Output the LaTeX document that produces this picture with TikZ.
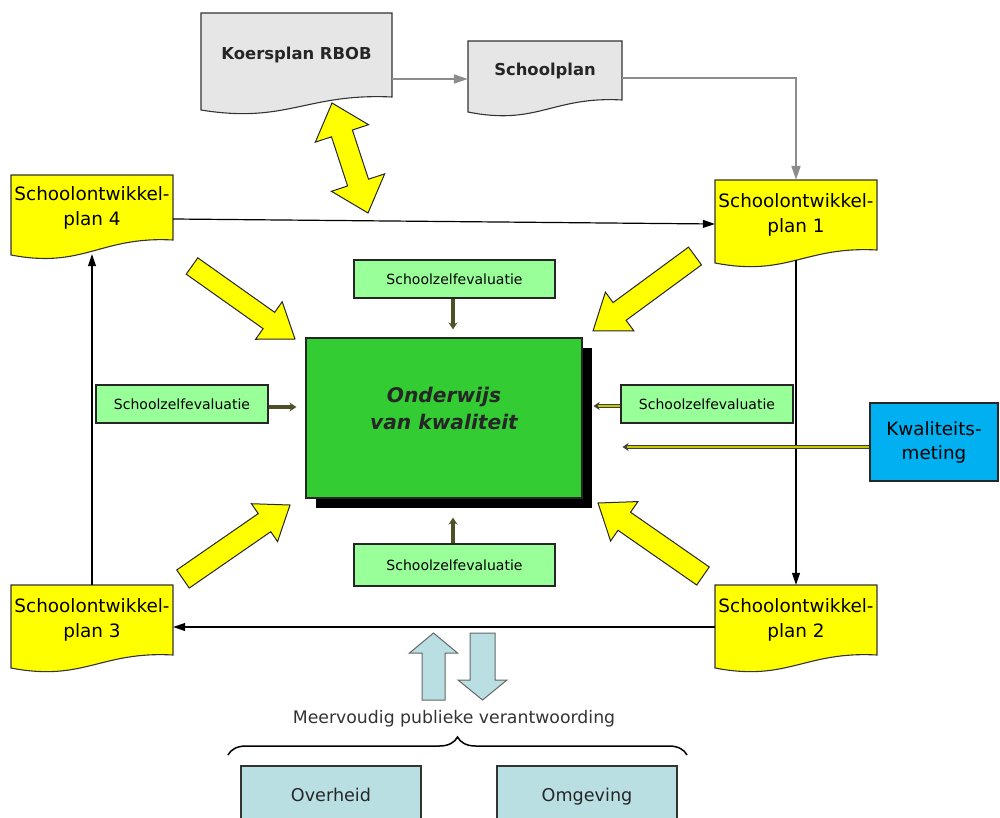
\documentclass[tikz,border=0pt]{standalone}
\usepackage{fontspec}
\setmainfont{DejaVu Sans}
\usetikzlibrary{arrows.meta,decorations.pathreplacing,shadows}
\definecolor{docgray}{HTML}{E6E6E6}
\definecolor{sopyellow}{HTML}{FFFF00}
\definecolor{maingreen}{HTML}{33CC33}
\definecolor{szegreen}{HTML}{99FF99}
\definecolor{kwblue}{HTML}{00B0F0}
\definecolor{lteal}{HTML}{B9DFE3}
\definecolor{conngray}{HTML}{8C8C8C}
\definecolor{darkolive}{HTML}{4F4F28}
\definecolor{yolive}{HTML}{C8C800}

% document shape with wavy bottom: fill, xl, xr, top, y right-bottom, y left-bottom
\newcommand\docshape[6]{%
\pgfmathsetmacro\dw{#3-#2}%
\pgfmathsetmacro\dcA{#3-0.45*\dw}%
\pgfmathsetmacro\dcB{#2+0.45*\dw}%
\pgfmathsetmacro\dyA{#5-4}%
\pgfmathsetmacro\dyB{#6+14}%
\filldraw[docline, fill=#1] (#2,#4) -- (#3,#4) -- (#3,#5) .. controls (\dcA,\dyA) and (\dcB,\dyB) .. (#2,#6) -- cycle;}

% block arrow: style, tail x, tail y, tip x, tip y, shaft half width, head half width, head length
\newcommand\blockarrow[8]{%
\pgfmathsetmacro\bdx{#4-#2}%
\pgfmathsetmacro\bdy{#5-#3}%
\pgfmathsetmacro\blen{veclen(\bdx,\bdy)}%
\pgfmathsetmacro\bang{atan2(-\bdy,\bdx)}%
\pgfmathsetmacro\bneck{\blen-#8}%
\begin{scope}[shift={(#2,#3)},rotate=\bang]
\draw[#1] (0,-#6) -- (\bneck,-#6) -- (\bneck,-#7) -- (\blen,0) -- (\bneck,#7) -- (\bneck,#6) -- (0,#6) -- cycle;
\end{scope}}

% double-headed block arrow: style, tip1 x, y, tip2 x, y, shaft half, head half, head length
\newcommand\dblockarrow[8]{%
\pgfmathsetmacro\bdx{#4-#2}%
\pgfmathsetmacro\bdy{#5-#3}%
\pgfmathsetmacro\blen{veclen(\bdx,\bdy)}%
\pgfmathsetmacro\bang{atan2(-\bdy,\bdx)}%
\pgfmathsetmacro\bneck{\blen-#8}%
\begin{scope}[shift={(#2,#3)},rotate=\bang]
\draw[#1] (0,0) -- (#8,-#7) -- (#8,-#6) -- (\bneck,-#6) -- (\bneck,-#7) -- (\blen,0) -- (\bneck,#7) -- (\bneck,#6) -- (#8,#6) -- (#8,#7) -- cycle;
\end{scope}}

\begin{document}
\begin{tikzpicture}[x=1pt,y=-1pt,
  docline/.style={draw=black!80, line width=1.1pt},
  doctext/.style={rectangle, inner sep=0pt, align=center},
  soptext/.style={doctext, minimum width=162, font=\fontsize{18.4}{25}\selectfont},
  yarrow/.style={fill=sopyellow, draw=black!85, line width=1pt, line join=miter},
  tarrow/.style={fill=lteal, draw=black!60, line width=1pt, line join=miter},
  conn/.style={draw=black, line width=1.2pt, -{Triangle[length=12pt,width=8pt]}},
  gconn/.style={draw=conngray, line width=2pt, -{Triangle[length=14pt,width=9pt]}},
  szebox/.style={rectangle, draw=black!85, line width=1.2pt, fill=szegreen, inner sep=0pt,
    minimum height=38, font=\fontsize{14}{17}\selectfont},
  sdark/.style={draw=darkolive, line width=3.2pt, -{Stealth[length=7pt,width=9pt]}},
  syel/.style={draw=black!75, line width=0.8pt, double=yolive, double distance=2pt,
    -{Stealth[length=6pt,width=8pt]}},
  tealbox/.style={rectangle, draw=black!80, line width=1.2pt, fill=lteal, inner sep=0pt,
    minimum width=180, minimum height=62, text height=13pt, text depth=4pt,
    font=\fontsize{17.6}{20}\selectfont, text=black!85}
]
\useasboundingbox (0,0) rectangle (1000,818);
\clip (0,0) rectangle (1000,818);

% ---------- documents ----------
\docshape{docgray}{201}{392}{13}{97}{110}
\node[doctext, minimum width=191, minimum height=84, font=\bfseries\fontsize{16.4}{19}\selectfont, text=black!85] (koers) at (296.5,55) {Koersplan RBOB};

\docshape{docgray}{468}{622}{41}{100}{112}
\node[doctext, minimum width=154, minimum height=59, font=\bfseries\fontsize{16.4}{19}\selectfont, text=black!85] (school) at (545,71) {Schoolplan};

\docshape{sopyellow}{11}{173}{175}{240}{255}
\node[soptext, minimum height=65] (sop4) at (92,207.5) {Schoolontwikkel-\\plan 4};

\docshape{sopyellow}{715}{877}{180}{250}{263}
\node[soptext, minimum height=70] (sop1) at (796,215) {Schoolontwikkel-\\plan 1};

\docshape{sopyellow}{11}{173}{585}{655}{668}
\node[soptext, minimum height=70] (sop3) at (92,620) {Schoolontwikkel-\\plan 3};

\docshape{sopyellow}{715}{877}{585}{655}{668}
\node[soptext, minimum height=70] (sop2) at (796,620) {Schoolontwikkel-\\plan 2};

% ---------- central box ----------
\node[rectangle, draw=black!85, line width=1.2pt, fill=maingreen, minimum width=276, minimum height=160,
  drop shadow={shadow xshift=10pt, shadow yshift=-10pt, opacity=1, fill=black}] (main) at (444,418) {};
\node[align=center, font=\bfseries\itshape\fontsize{20.2}{27}\selectfont, text=black!85] (maintext) at (444,408) {Onderwijs\\van kwaliteit};

% ---------- self-evaluation boxes ----------
\node[szebox, minimum width=201] (szetop) at (454.5,279) {Schoolzelfevaluatie};
\node[szebox, minimum width=172] (szeleft) at (182,404) {Schoolzelfevaluatie};
\node[szebox, minimum width=172] (szeright) at (707,404) {Schoolzelfevaluatie};
\node[szebox, minimum width=201, minimum height=42] (szebot) at (454.5,565) {Schoolzelfevaluatie};

\node[rectangle, draw=black!85, line width=1.2pt, fill=kwblue, inner sep=0pt, minimum width=128, minimum height=78,
  align=center, font=\fontsize{18.3}{24}\selectfont] (kwal) at (934,442) {Kwaliteits-\\meting};

% ---------- connectors ----------
\draw[gconn] ([yshift=-24pt]koers.east) -- ([yshift=-8pt]school.west);
\draw[gconn] ([yshift=-7pt]school.east) -| (sop1.north);

\draw[conn] ([yshift=-11.5pt]sop4.east) -- ([yshift=-9pt]sop1.west);
\draw[conn] ([yshift=-10pt]sop1.south) -- (sop2.north);
\draw[conn] ([yshift=-7pt]sop2.west) -- ([yshift=-7pt]sop3.east);
\draw[conn] (sop3.north) -- ([yshift=-14pt]sop4.south);

\draw[sdark, shorten >=8pt] ([xshift=-1.5pt]szetop.south) -- ([xshift=-1.5pt]szetop.south |- main.north);
\draw[sdark, shorten >=9pt] ([yshift=-3pt]szeleft.east) -- ([yshift=-3pt]szeleft.east -| main.west);
\draw[syel, shorten >=11pt] ([yshift=-2pt]szeright.west) -- ([yshift=-2pt]szeright.west -| main.east);
\draw[sdark, shorten >=19pt] ([xshift=-1.5pt]szebot.north) -- ([xshift=-1.5pt]szebot.north |- main.south);
\draw[syel, shorten >=40pt] ([yshift=-5pt]kwal.west) -- ([yshift=-5pt]kwal.west -| main.east);

% ---------- yellow block arrows ----------
\dblockarrow{yarrow}{332}{103}{368}{213}{11}{28}{32}
\blockarrow{yarrow}{192}{266}{295}{339}{10}{23}{32}
\blockarrow{yarrow}{695}{256}{593}{331}{11}{24}{33}
\blockarrow{yarrow}{183}{579}{290}{505}{11}{23}{31}
\blockarrow{yarrow}{703}{576}{598}{503}{11}{24}{32}

% ---------- public accountability ----------
\blockarrow{tarrow}{433.5}{700}{433.5}{633}{11.5}{24}{20}
\blockarrow{tarrow}{482.5}{633}{482.5}{700}{12.5}{24.5}{20}

\node[font=\fontsize{17.3}{20}\selectfont, text=black!80] (mpv) at (454,719) {Meervoudig publieke verantwoording};

\coordinate (bl) at (228,755);
\coordinate (br) at (687,755);
\draw[line width=1.5pt, decorate, decoration={brace, amplitude=18pt}] (bl) -- (br);

\node[tealbox] (overheid) at (331,797) {Overheid};
\node[tealbox] (omgeving) at (587,797) {Omgeving};
\end{tikzpicture}
\end{document}
